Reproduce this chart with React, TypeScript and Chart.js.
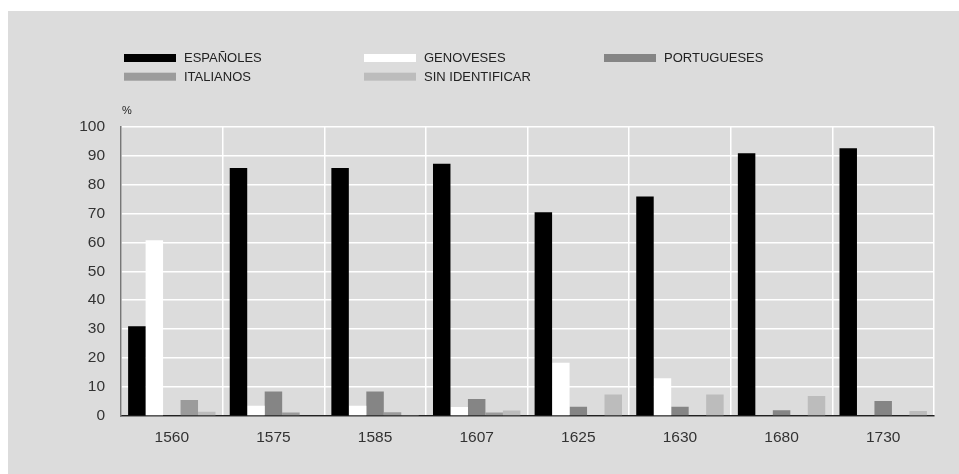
import React, { useEffect, useRef } from "react";
import { Chart, registerables } from "chart.js";

Chart.register(...registerables);

const categories = ["1560", "1575", "1585", "1607", "1625", "1630", "1680", "1730"];
const seriesNames = ["ESPAÑOLES", "GENOVESES", "PORTUGUESES", "ITALIANOS", "SIN IDENTIFICAR"];
const espanoles = [31, 85.7, 85.7, 87.1, 70.4, 75.8, 90.8, 92.5];
const genoveses = [60.7, 3.5, 3.5, 3.1, 18.4, 13, 0, 0];
const portugueses = [0, 8.5, 8.5, 5.9, 3.2, 3.2, 2.0, 5.2];
const italianos = [5.5, 1.2, 1.3, 1.2, 0, 0, 0, 0];
const sinIdentificar = [1.5, 0.3, 0.35, 1.9, 7.4, 7.4, 6.9, 1.7];
const seriesColors = ["#000000", "#ffffff", "#858585", "#9b9b9b", "#bcbcbc"];
const yTicks = [0, 10, 20, 30, 40, 50, 60, 70, 80, 90, 100];
const unitLabel = "%";

const FONT = '"Liberation Sans", Arial, Helvetica, sans-serif';

const legendPlugin = {
  id: "customLegend",
  afterDraw(chart: any) {
    const ctx = chart.ctx;
    ctx.save();
    ctx.font = `13px ${FONT}`;
    ctx.textBaseline = "middle";
    ctx.textAlign = "left";
    seriesNames.forEach((name, i) => {
      const col = i % 3;
      const row = Math.floor(i / 3);
      const x = 116 + col * 240;
      const y = 47 + row * 18.7;
      ctx.fillStyle = seriesColors[i];
      ctx.fillRect(x, y - 4, 52, 8);
      ctx.fillStyle = "#222";
      ctx.fillText(name, x + 60, y + 0.5);
    });
    ctx.font = `11px ${FONT}`;
    ctx.fillStyle = "#222";
    ctx.fillText(unitLabel, chart.chartArea.left + 1, chart.chartArea.top - 16);
    ctx.restore();
  },
};

export default function App() {
  const ref = useRef<HTMLCanvasElement | null>(null);
  useEffect(() => {
    if (!ref.current) return;
    const values = [espanoles, genoveses, portugueses, italianos, sinIdentificar];
    const chart = new Chart(ref.current, {
      type: "bar",
      data: {
        labels: categories,
        datasets: seriesNames.map((name, i) => ({
          label: name,
          data: values[i],
          backgroundColor: seriesColors[i],
          borderWidth: 0,
          categoryPercentage: 0.86,
          barPercentage: 1.0,
        })),
      },
      options: {
        animation: false,
        responsive: false,
        layout: { padding: { left: 0, right: 25, top: 115.5, bottom: 0 } },
        plugins: { legend: { display: false }, tooltip: { enabled: false } },
        scales: {
          x: {
            grid: { color: "#ffffff", lineWidth: 1.5, drawTicks: false, offset: true },
            border: { color: "#222", width: 1.5 },
            ticks: { color: "#333", font: { family: FONT, size: 15.5 }, padding: 12 },
            afterFit(scale: any) {
              scale.height = 58;
            },
          },
          y: {
            min: 0,
            max: 100,
            afterBuildTicks(scale: any) {
              scale.ticks = yTicks.map((v) => ({ value: v }));
            },
            grid: { color: "#ffffff", lineWidth: 1.5, drawTicks: false },
            border: { color: "#777", width: 1.5 },
            ticks: { color: "#333", font: { family: FONT, size: 15.5 }, padding: 16 },
            afterFit(scale: any) {
              scale.width = 113;
            },
          },
        },
      },
      plugins: [legendPlugin],
    });
    return () => chart.destroy();
  }, []);
  return (
    <div
      style={{
        position: "absolute",
        left: 8,
        top: 11,
        width: 951,
        height: 463,
        background: "#dcdcdc",
      }}
    >
      <canvas ref={ref} width={951} height={463} />
    </div>
  );
}
